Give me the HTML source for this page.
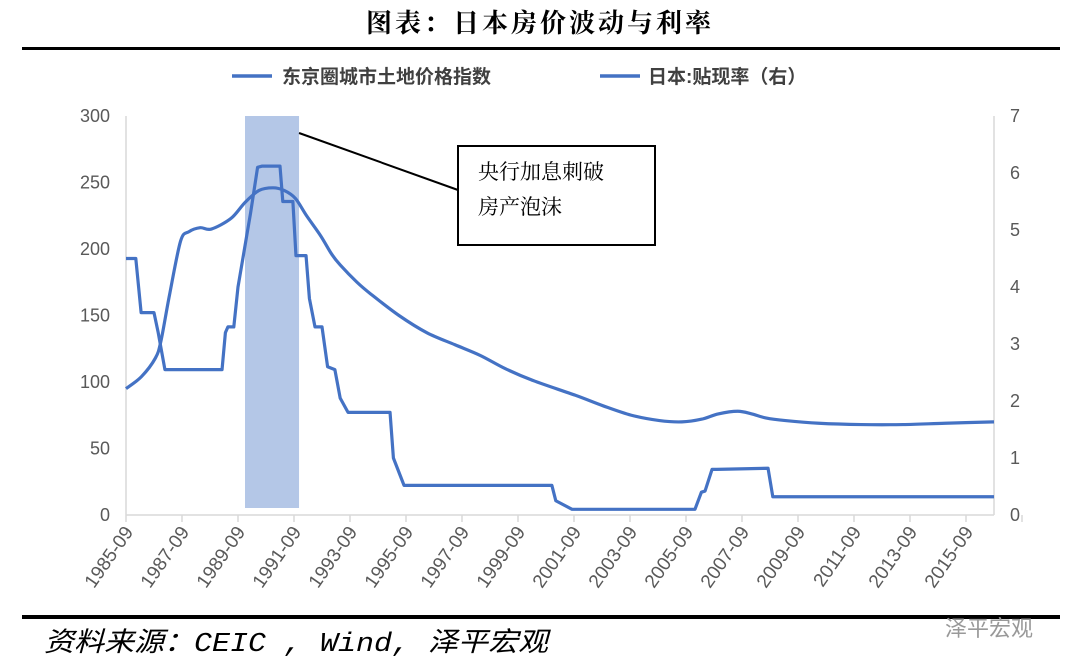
<!DOCTYPE html>
<html><head><meta charset="utf-8"><style>
body{margin:0;background:#fff;width:1080px;height:671px;overflow:hidden}
svg{display:block}
</style></head><body>
<svg width="1080" height="671" xmlns="http://www.w3.org/2000/svg">
<text x="540" y="32" text-anchor="middle" font-family="'Liberation Serif','Noto Serif CJK SC',serif" font-size="26" font-weight="bold" letter-spacing="3">图表：日本房价波动与利率</text>
<rect x="22" y="47" width="1038" height="3" fill="#000"/>
<g id="legend">
<line x1="232" y1="76" x2="272" y2="76" stroke="#4472C4" stroke-width="3.5"/>
<text x="282" y="83" font-family="'Liberation Sans','Noto Sans CJK SC',sans-serif" font-size="19" font-weight="bold" fill="#404040">东京圈城市土地价格指数</text>
<line x1="600" y1="76" x2="640" y2="76" stroke="#4472C4" stroke-width="3.5"/>
<text x="648" y="83" font-family="'Liberation Sans','Noto Sans CJK SC',sans-serif" font-size="19" font-weight="bold" fill="#404040">日本:贴现率（右）</text>
</g>
<g id="plot"></g>
<rect x="22" y="615" width="1038" height="4" fill="#000"/>
<text x="44" y="651" textLength="504" lengthAdjust="spacingAndGlyphs" font-family="'Liberation Mono','Noto Sans CJK SC',monospace" font-size="27" font-style="italic" fill="#000">资料来源：CEIC , Wind, 泽平宏观</text>
<text x="945" y="636" font-family="'Liberation Sans','Noto Sans CJK SC',sans-serif" font-size="22" fill="#999">泽平宏观</text>
</svg>
<script>
const landYears=[1985.75,1986.3,1986.8,1987.0,1987.3,1987.7,1988.0,1988.4,1988.8,1989.5,1990.0,1990.5,1991.0,1991.4,1991.8,1992.2,1992.7,1993.1,1993.4,1994.0,1994.5,1995.5,1996.5,1997.5,1998.4,1999.3,2000.3,2001.8,2002.8,2003.8,2004.8,2005.6,2006.3,2006.9,2007.6,2008.1,2008.6,2009.3,2010.5,2012.0,2013.5,2015.0,2016.75];
const landValues=[95,104,118,131,165,206,213,216,215,223,235,244,246,244,238,225,210,196,188,175,166,150,137,128,120,110,101,90,82,75,71,70,72,76,78,76,73,71,69,68,68,69,70];
const rateYears=[1985.75,1986.1,1986.2,1986.29,1986.75,1986.9,1987.14,1989.18,1989.3,1989.39,1989.6,1989.75,1990.2,1990.45,1990.6,1991.25,1991.35,1991.43,1991.71,1991.82,1992.18,1992.3,1992.5,1992.75,1992.95,1993.21,1993.4,1993.68,1995.18,1995.3,1995.68,2000.96,2001.1,2001.68,2006.07,2006.3,2006.43,2006.68,2006.85,2008.68,2008.85,2016.75];
const rateValues=[4.5,4.5,4.0,3.55,3.55,3.2,2.55,2.55,3.2,3.3,3.3,4.0,5.3,6.1,6.12,6.12,5.5,5.5,5.5,4.55,4.55,3.8,3.3,3.3,2.6,2.55,2.05,1.8,1.8,1.0,0.52,0.52,0.25,0.1,0.1,0.4,0.42,0.8,0.8,0.82,0.32,0.32];
const leftTicks=[0,50,100,150,200,250,300];
const rightTicks=[0,1,2,3,4,5,6,7];
const xLabels=["1985-09","1987-09","1989-09","1991-09","1993-09","1995-09","1997-09","1999-09","2001-09","2003-09","2005-09","2007-09","2009-09","2011-09","2013-09","2015-09"];
const bandStart=1990.0, bandEnd=1991.93;

const X0=126,X1=994,T0=1985.75,T1=2016.75,Y0=515,Y1=116;
const xs=t=>X0+(t-T0)/(T1-T0)*(X1-X0);
const yl=v=>Y0-v/300*(Y0-Y1);
const yr=v=>Y0-v/7*(Y0-Y1);
const NS='http://www.w3.org/2000/svg';
const plot=document.getElementById('plot');
function mk(tag,attrs){const e=document.createElementNS(NS,tag);for(const k in attrs)e.setAttribute(k,attrs[k]);plot.appendChild(e);return e;}
function smooth(pts,k){let d='M'+pts[0][0]+','+pts[0][1];for(let i=0;i<pts.length-1;i++){const p0=pts[i-1]||pts[i],p1=pts[i],p2=pts[i+1],p3=pts[i+2]||p2;
const c1=[p1[0]+(p2[0]-p0[0])*k,p1[1]+(p2[1]-p0[1])*k],c2=[p2[0]-(p3[0]-p1[0])*k,p2[1]-(p3[1]-p1[1])*k];
d+=` C${c1[0]},${c1[1]} ${c2[0]},${c2[1]} ${p2[0]},${p2[1]}`;}return d;}
const F="'Liberation Sans','Noto Sans CJK SC',sans-serif";
let b=mk('rect',{x:xs(bandStart),y:Y1,width:xs(bandEnd)-xs(bandStart),height:508-Y1,fill:'#B4C7E7'});


let a=mk('line',{x1:X0,y1:Y1,x2:X0,y2:Y0,stroke:'#d9d9d9','stroke-width':1.5});


a=mk('line',{x1:X1,y1:Y1,x2:X1,y2:Y0,stroke:'#d9d9d9','stroke-width':1.5});


a=mk('line',{x1:X0,y1:Y0,x2:X1,y2:Y0,stroke:'#d9d9d9','stroke-width':1.5});


leftTicks.forEach(v=>{const t=mk('text',{x:110,y:yl(v)+6,'text-anchor':'end','font-family':F,'font-size':18,fill:'#595959'});t.textContent=v;

});
rightTicks.forEach(v=>{const t=mk('text',{x:1010,y:yr(v)+6,'font-family':F,'font-size':18,fill:'#595959'});t.textContent=v;

});
for(let i=0;i<=xLabels.length;i++){const x=xs(T0+2*i);const l=mk('line',{x1:x,y1:Y0,x2:x,y2:Y0+7,stroke:'#d9d9d9','stroke-width':1.5});

}
xLabels.forEach((s,i)=>{const x=xs(T0+2*i)+8;const t=mk('text',{x:x,y:532,'text-anchor':'end','font-family':F,'font-size':19,fill:'#595959',transform:`rotate(-55 ${x} 532)`});t.textContent=s;

});
let p=mk('path',{d:smooth(landYears.map((t,i)=>[xs(t),yl(landValues[i])]),0.16),fill:'none',stroke:'#4472C4','stroke-width':3.2,'stroke-linejoin':'round'});


p=mk('polyline',{points:rateYears.map((t,i)=>xs(t)+','+yr(rateValues[i])).join(' '),fill:'none',stroke:'#4472C4','stroke-width':3.2,'stroke-linejoin':'round'});


let c=mk('line',{x1:xs(bandEnd),y1:133,x2:458,y2:190,stroke:'#000','stroke-width':2});


c=mk('rect',{x:458,y:146,width:197,height:99,fill:'#fff',stroke:'#000','stroke-width':2});


[['央行加息刺破',179],['房产泡沫',214]].forEach(([s,y])=>{const t=mk('text',{x:478,y:y,'font-family':"'Liberation Serif','Noto Serif CJK SC',serif",'font-size':21,fill:'#000'});t.textContent=s;

});
</script>
</body></html>
